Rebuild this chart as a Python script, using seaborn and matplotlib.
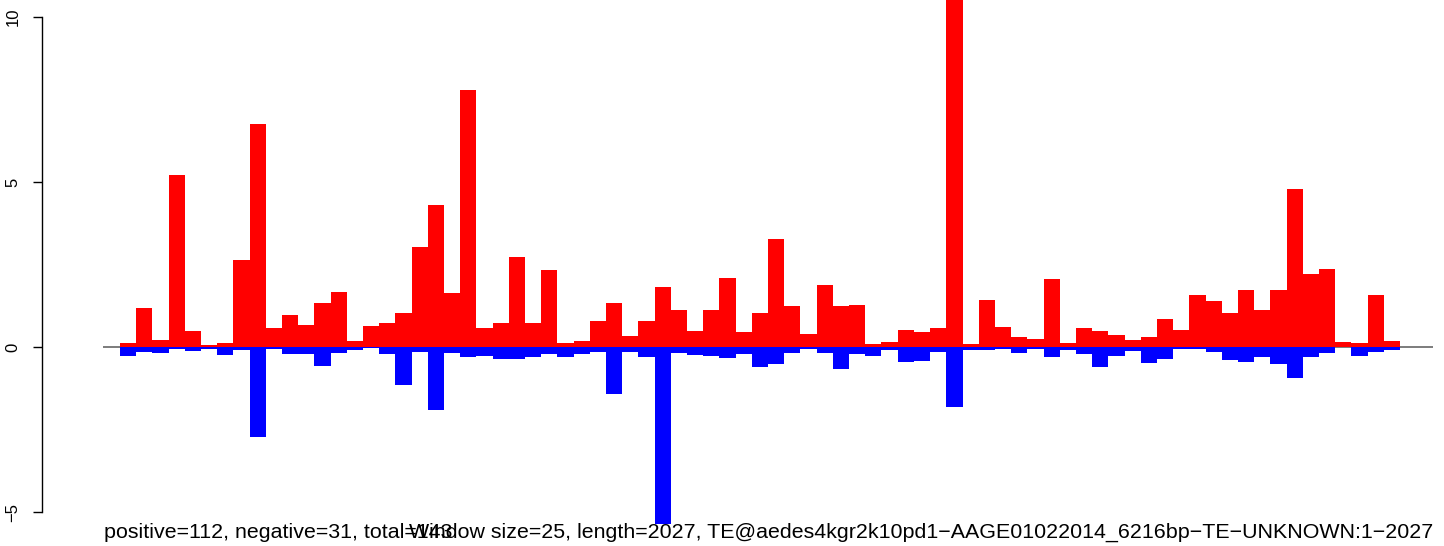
import matplotlib
matplotlib.use("Agg")
import matplotlib.pyplot as plt
import seaborn as sns
import numpy as np
import pandas as pd

# 窗口内正/负信号 (window size 25)
positive = [0.12, 1.18, 0.21, 5.21, 0.48, 0.06, 0.12, 2.64, 6.76, 0.58,
            0.97, 0.67, 1.33, 1.67, 0.18, 0.64, 0.73, 1.03, 3.03, 4.30,
            1.64, 7.79, 0.58, 0.72, 2.72, 0.72, 2.33, 0.12, 0.18, 0.79,
            1.33, 0.33, 0.79, 1.82, 1.12, 0.48, 1.12, 2.09, 0.45, 1.03,
            3.27, 1.24, 0.39, 1.88, 1.24, 1.27, 0.09, 0.15, 0.52, 0.45,
            0.58, 11.00, 0.09, 1.42, 0.61, 0.30, 0.24, 2.06, 0.12, 0.58,
            0.48, 0.36, 0.21, 0.30, 0.85, 0.52, 1.58, 1.39, 1.03, 1.73,
            1.12, 1.73, 4.79, 2.21, 2.36, 0.15, 0.12, 1.58, 0.18]
negative = [-0.26, -0.14, -0.17, -0.07, -0.11, -0.05, -0.23, -0.08, -2.72, -0.05,
            -0.20, -0.20, -0.57, -0.17, -0.08, -0.04, -0.20, -1.14, -0.14, -1.90,
            -0.17, -0.29, -0.26, -0.35, -0.35, -0.29, -0.20, -0.29, -0.20, -0.14,
            -1.41, -0.14, -0.29, -5.60, -0.17, -0.23, -0.26, -0.32, -0.20, -0.60,
            -0.51, -0.17, -0.05, -0.17, -0.66, -0.20, -0.26, -0.08, -0.44, -0.41,
            -0.14, -1.81, -0.08, -0.08, -0.05, -0.17, -0.05, -0.29, -0.08, -0.20,
            -0.60, -0.27, -0.11, -0.48, -0.36, -0.05, -0.05, -0.15, -0.39, -0.45,
            -0.30, -0.52, -0.94, -0.30, -0.18, 0.00, -0.27, -0.15, -0.09]
y_ticks = [-5, 0, 5, 10]
y_tick_labels = ["\u22125", "0", "5", "10"]
left_text = "positive=112, negative=31, total=143"
right_text = ("Window size=25, length=2027, "
              "TE@aedes4kgr2k10pd1\u2212AAGE01022014_6216bp\u2212TE\u2212UNKNOWN:1\u22122027")

sns.set_style("white")
plt.rcParams['font.family'] = ['Liberation Sans', 'DejaVu Sans']

df = pd.DataFrame({'win': np.arange(len(positive)), 'pos': positive, 'neg': negative})

W, H = 1444, 546
fig = plt.figure(figsize=(W / 100, H / 100), dpi=100)
ax = fig.add_axes([103 / W, (H - 524) / H, (1433 - 103) / W, 524 / H])

# 零线
ax.axhline(0, color='#666666', lw=1.2, zorder=0)

sns.barplot(data=df, x='win', y='pos', color='#FF0000', saturation=1, width=1.0,
            errorbar=None, linewidth=0, ax=ax, zorder=2)
sns.barplot(data=df, x='win', y='neg', color='#0000FF', saturation=1, width=1.0,
            errorbar=None, linewidth=0, ax=ax, zorder=2)

ax.set_xlim(-1.55, 80.54)
ax.set_ylim(-5.36, 10.52)
ax.set_xlabel('')
ax.set_ylabel('')
ax.set_xticks([])

for s in ['top', 'right', 'bottom']:
    ax.spines[s].set_visible(False)
# y轴在 x≈42 px 处 (outward 单位是 pt)
ax.spines['left'].set_position(('outward', 61 * 0.72))
ax.spines['left'].set_bounds(-5, 10)
ax.spines['left'].set_color('black')
ax.spines['left'].set_linewidth(1)

ax.set_yticks(y_ticks)
ax.set_yticklabels(y_tick_labels, fontsize=12, color='black')
ax.tick_params(axis='y', left=True, length=6.5, width=1, pad=9, labelrotation=90,
               color='black')
for lab in ax.get_yticklabels():
    lab.set_va('center')

fig.text(104 / W, 1 - 538 / H, left_text, ha='left', va='baseline', fontsize=15.4,
         color='black')
fig.text(1433 / W, 1 - 538 / H, right_text, ha='right', va='baseline', fontsize=15.4,
         color='black')

fig.savefig('out.png', dpi=100)
